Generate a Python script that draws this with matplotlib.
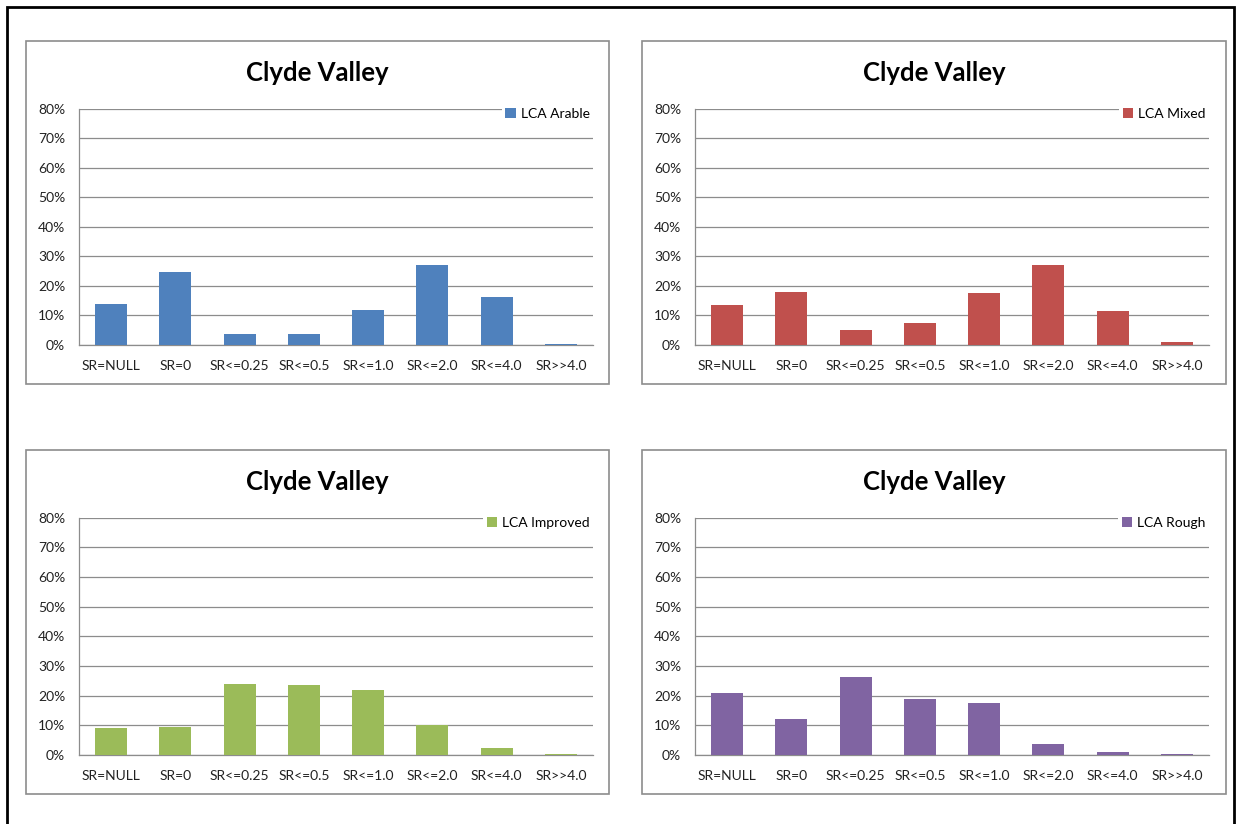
import numpy as np
import matplotlib
matplotlib.use('Agg')
import matplotlib.pyplot as plt
from matplotlib.patches import Rectangle
from matplotlib.ticker import PercentFormatter

plt.rcParams['font.family'] = ['Lato', 'DejaVu Sans']

# Categories and series (fractions)
categories = ['SR=NULL', 'SR=0', 'SR<=0.25', 'SR<=0.5', 'SR<=1.0', 'SR<=2.0', 'SR<=4.0', 'SR>>4.0']
title = 'Clyde Valley'
arable = [0.138, 0.246, 0.037, 0.037, 0.117, 0.270, 0.161, 0.003]
mixed = [0.134, 0.178, 0.050, 0.073, 0.176, 0.272, 0.114, 0.009]
improved = [0.091, 0.094, 0.238, 0.236, 0.220, 0.100, 0.025, 0.003]
rough = [0.209, 0.122, 0.262, 0.190, 0.176, 0.037, 0.009, 0.003]
names = ['LCA Arable', 'LCA Mixed', 'LCA Improved', 'LCA Rough']
colors = ['#4F81BD', '#C0504D', '#9BBB59', '#8064A2']
series = [arable, mixed, improved, rough]

W, H = 1240, 824
fig = plt.figure(figsize=(W / 100, H / 100), dpi=100)

def fbox(x0, y0, x1, y1):
    # pixel box (top-left origin) -> figure fraction rect
    return [x0 / W, 1 - y1 / H, (x1 - x0) / W, (y1 - y0) / H]

# outer black frame
fig.add_artist(Rectangle((7 / W, -0.05), (1234 - 7) / W, 1.05 - 7 / H,
                         transform=fig.transFigure, fill=False,
                         edgecolor='black', lw=2))

# panel layout: (panel box, plot area) in pixels
panels = [
    ((26, 41, 609, 384), (79, 108.7, 593, 345)),
    ((642, 41, 1226, 384), (695, 108.7, 1209, 345)),
    ((26, 450, 609, 794), (79, 517.7, 593, 755)),
    ((642, 450, 1226, 794), (695, 517.7, 1209, 755)),
]

x = np.arange(len(categories))
for (box, area), vals, name, col in zip(panels, series, names, colors):
    r = fbox(*box)
    fig.add_artist(Rectangle((r[0], r[1]), r[2], r[3], transform=fig.transFigure,
                             fill=False, edgecolor='#8c8c8c', lw=1.2))
    ax = fig.add_axes(fbox(*area))
    ax.bar(x, vals, width=0.5, color=col, label=name, zorder=3)
    ax.set_xlim(-0.5, len(categories) - 0.5)
    ax.set_ylim(0, 0.8)
    ax.set_yticks(np.arange(0, 0.81, 0.1))
    ax.yaxis.set_major_formatter(PercentFormatter(1.0, decimals=0))
    ax.set_xticks(x)
    ax.set_xticklabels(categories)
    ax.grid(axis='y', color='#8c8c8c', lw=0.9, zorder=0)
    ax.tick_params(axis='both', length=0, labelsize=10, colors='#222222')
    ax.tick_params(axis='y', pad=10)
    ax.tick_params(axis='x', pad=11)
    for s in ['top', 'right']:
        ax.spines[s].set_visible(False)
    for s in ['left', 'bottom']:
        ax.spines[s].set_color('#8c8c8c')
        ax.spines[s].set_linewidth(0.9)
    leg = ax.legend(loc='center right', bbox_to_anchor=(1.0, 0.978), frameon=True,
                    fontsize=10, handlelength=0.75, handleheight=0.75,
                    handletextpad=0.35, borderpad=0.25, borderaxespad=0)
    leg.get_frame().set_facecolor('white')
    leg.get_frame().set_edgecolor('none')
    leg.get_frame().set_alpha(1)
    leg.set_zorder(5)
    # title centred on the panel box
    cx = (box[0] + box[2]) / 2 / W
    cy = 1 - (box[1] + 32) / H
    fig.text(cx, cy, title, ha='center', va='center', fontsize=18.5, fontweight='bold')

plt.savefig('out.png', dpi=100)
